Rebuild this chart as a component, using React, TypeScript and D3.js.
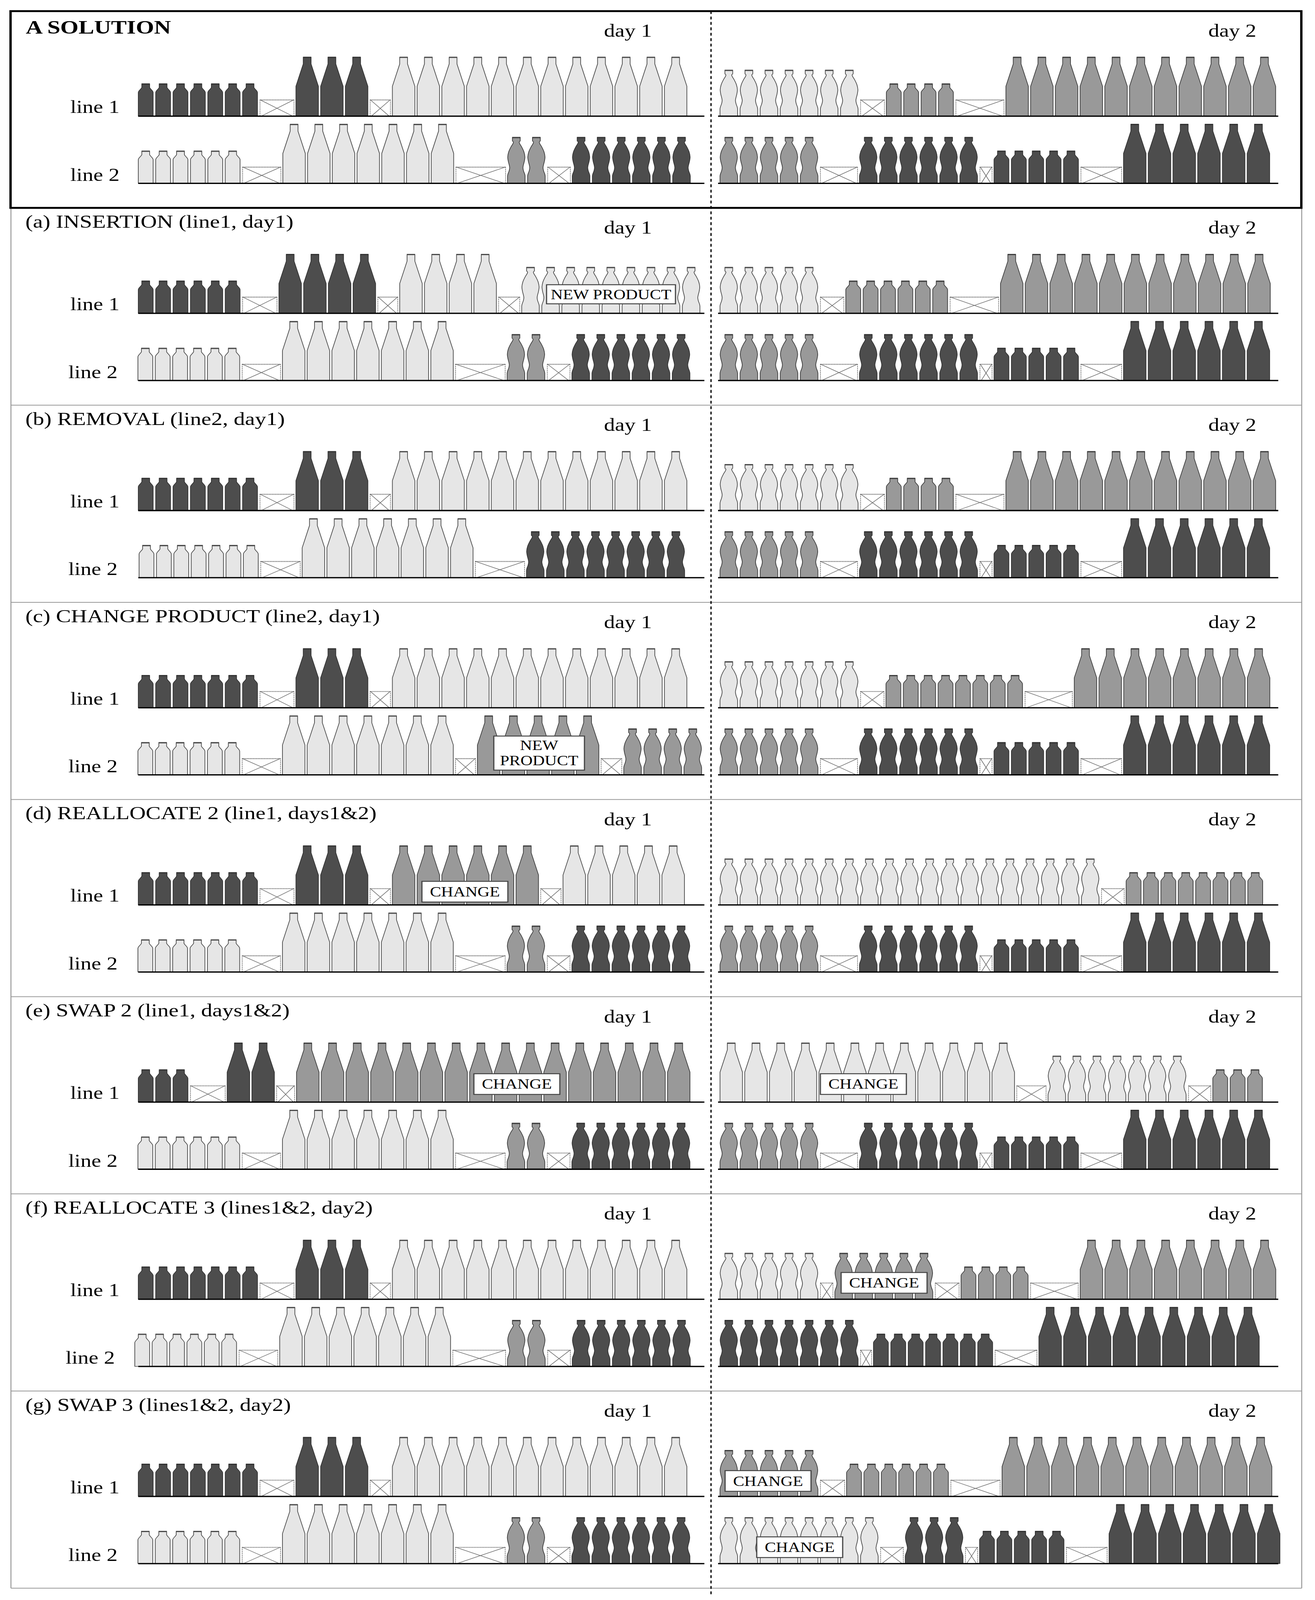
import * as d3 from 'd3'

type Shape = 'small' | 'big' | 'contour'
type Shade = 'dark' | 'mid' | 'light'
type Item = [Shape, Shade, number] | number

// runs of bottles [shape, shade, count]; a plain number is a changeover of that length
const baseD1L1: Item[] = [['small', 'dark', 7], 92, ['big', 'dark', 3], 57, ['big', 'light', 12]]
const baseD1L2: Item[] = [['small', 'light', 6], 103, ['big', 'light', 7], 132, ['contour', 'mid', 2], 63, ['contour', 'dark', 6]]
const baseD2L1: Item[] = [['contour', 'light', 7], 66, ['small', 'mid', 4], 128, ['big', 'mid', 11]]
const baseD2L2: Item[] = [['contour', 'mid', 5], 100, ['contour', 'dark', 6], 36, ['small', 'dark', 5], 109, ['big', 'dark', 6]]

const aD1L1: Item[] = [['small', 'dark', 6], 93, ['big', 'dark', 4], 56, ['big', 'light', 4], 59, ['contour', 'light', 9]]
const aD2L1: Item[] = [['contour', 'light', 5], 65, ['small', 'mid', 6], 129, ['big', 'mid', 11]]
const bD1L2: Item[] = [['small', 'light', 7], 106, ['big', 'light', 7], 131, ['contour', 'dark', 8]]
const cD1L2: Item[] = [['small', 'light', 6], 103, ['big', 'light', 7], 56, ['big', 'mid', 5], 58, ['contour', 'mid', 4]]
const cD2L1: Item[] = [['contour', 'light', 7], 65, ['small', 'mid', 8], 126, ['big', 'mid', 8]]
const dD1L1: Item[] = [['small', 'dark', 7], 92, ['big', 'dark', 3], 57, ['big', 'mid', 6], 57, ['big', 'light', 5]]
const dD2L1: Item[] = [['contour', 'light', 19], 63, ['small', 'mid', 8]]
const eD1L1: Item[] = [['small', 'dark', 3], 94, ['big', 'dark', 2], 51, ['big', 'mid', 16]]
const eD2L1: Item[] = [['big', 'light', 12], 80, ['contour', 'light', 7], 62, ['small', 'mid', 3]]
const fD1L2: Item[] = [['small', 'light', 6], 104, ['big', 'light', 7], 140, ['contour', 'mid', 2], 63, ['contour', 'dark', 6]]
const fD2L1: Item[] = [['contour', 'light', 5], 37, ['contour', 'mid', 5], 66, ['small', 'mid', 4], 127, ['big', 'mid', 8]]
const fD2L2: Item[] = [['contour', 'dark', 7], 33, ['small', 'dark', 7], 112, ['big', 'dark', 9]]
const gD2L1: Item[] = [['contour', 'mid', 5], 67, ['small', 'mid', 6], 131, ['big', 'mid', 11]]
const gD2L2: Item[] = [['contour', 'light', 8], 63, ['contour', 'dark', 3], 36, ['small', 'dark', 5], 109, ['big', 'dark', 7]]

const titles = [
  'A SOLUTION',
  '(a) INSERTION (line1, day1)',
  '(b) REMOVAL (line2, day1)',
  '(c) CHANGE PRODUCT (line2, day1)',
  '(d) REALLOCATE 2 (line1, days1&2)',
  '(e) SWAP 2 (line1, days1&2)',
  '(f) REALLOCATE 3 (lines1&2, day2)',
  '(g) SWAP 3 (lines1&2, day2)',
]

// per panel: day1 line1, day1 line2, day2 line1, day2 line2
const panelRows: Item[][][] = [
  [baseD1L1, baseD1L2, baseD2L1, baseD2L2],
  [aD1L1, baseD1L2, aD2L1, baseD2L2],
  [baseD1L1, bD1L2, baseD2L1, baseD2L2],
  [baseD1L1, cD1L2, cD2L1, baseD2L2],
  [dD1L1, baseD1L2, dD2L1, baseD2L2],
  [eD1L1, baseD1L2, eD2L1, baseD2L2],
  [baseD1L1, fD1L2, fD2L1, fD2L2],
  [baseD1L1, baseD1L2, gD2L1, gD2L2],
]

// panel, line (0/1), centre on the page, text lines
const calloutPanels = [1, 3, 4, 5, 5, 6, 7, 7]
const calloutLines = [0, 1, 0, 0, 0, 0, 0, 1]
const calloutTexts = [['NEW PRODUCT'], ['NEW', 'PRODUCT'], ['CHANGE'], ['CHANGE'], ['CHANGE'], ['CHANGE'], ['CHANGE'], ['CHANGE']]
const calloutCentres = [1564, 1380, 1190, 1323, 2210, 2263, 1966, 2047]
const calloutBottoms = [30, 15, 9, 24, 24, 19, 16, 19]

const WIDTH = 3366
const HEIGHT = 5026
const serif = '"Liberation Serif", "Times New Roman", serif'

const sizes: Record<Shape, { w: number; pitch: number; h: number }> = {
  small: { w: 38, pitch: 44.5, h: 102 },
  big: { w: 57.5, pitch: 63.3, h: 186 },
  contour: { w: 45, pitch: 51.4, h: 145 },
}
const fills = d3.scaleOrdinal<Shade, string>().domain(['dark', 'mid', 'light']).range(['#4d4d4d', '#999999', '#e6e6e6'])
const strokes = d3.scaleOrdinal<Shade, string>().domain(['dark', 'mid', 'light']).range(['#333333', '#3d3d3d', '#4a4a4a'])

const panelY = d3.scaleLinear().domain([0, 8]).range([34, 4989])
const day1X = d3.scaleLinear().domain([0, 1449]).range([354, 1803])
const day2X = d3.scaleLinear().domain([0, 1434]).range([1838, 3272])

const LINE1 = 331
const LINE2 = 542
const NECK = 10
const CRATE_H = 52

// small x offsets of the second line's first bottle and its label
const line2Lead = [0, -1, 2, -1, -1, -1, -9, -1]
const line2LabelShift = [0, -5, -5, -5, -5, -5, -12, -5]

// contour bottle outline: depth below the top, half width
const contourDepth = [12, 15, 20, 30, 46, 62, 76, 88, 96, 106, 116, 122]
const contourHalf = [10, 7.5, 8.5, 13.5, 19.5, 22, 20.5, 18, 17, 18.5, 21.5, 22.5]

function bottlePath(shape: Shape, x: number, base: number) {
  const { w, h } = sizes[shape]
  const cx = x + w / 2
  const hw = w / 2
  const top = base - h
  if (shape === 'big') {
    const p = d3.path()
    p.moveTo(cx - hw, base)
    p.lineTo(cx - hw, top + 92)
    p.lineTo(cx - NECK, top + 22)
    p.lineTo(cx - NECK, top)
    p.lineTo(cx + NECK, top)
    p.lineTo(cx + NECK, top + 22)
    p.lineTo(cx + hw, top + 92)
    p.lineTo(cx + hw, base)
    p.closePath()
    return p.toString()
  }
  if (shape === 'small') {
    const p = d3.path()
    p.moveTo(cx - hw, base)
    p.lineTo(cx - hw, top + 28)
    p.bezierCurveTo(cx - hw, top + 22, cx - hw + 5, top + 20, cx - NECK, top + 12)
    p.lineTo(cx - NECK, top)
    p.lineTo(cx + NECK, top)
    p.lineTo(cx + NECK, top + 12)
    p.bezierCurveTo(cx + hw - 5, top + 20, cx + hw, top + 22, cx + hw, top + 28)
    p.lineTo(cx + hw, base)
    p.closePath()
    return p.toString()
  }
  const curve = d3
    .line<[number, number]>()
    .x((d) => d[0])
    .y((d) => d[1])
    .curve(d3.curveCatmullRom)
  const left = contourDepth.map((d, i) => [cx - contourHalf[i], top + d] as [number, number]).reverse()
  const right = contourDepth.map((d, i) => [cx + contourHalf[i], top + d] as [number, number])
  return (
    `M${cx - hw},${base}L` +
    curve(left)!.slice(1) +
    `L${cx - NECK},${top}L${cx + NECK},${top}L` +
    curve(right)!.slice(1) +
    `L${cx + hw},${base}Z`
  )
}

interface BottleMark { kind: 'bottle'; shape: Shape; shade: Shade; t: number }
interface CrateMark { kind: 'crate'; t: number; len: number }

// walk a row along the time axis
function layoutRow(items: Item[], start: number) {
  const marks: (BottleMark | CrateMark)[] = []
  let t = start
  items.forEach((item) => {
    if (typeof item === 'number') {
      marks.push({ kind: 'crate', t, len: item - 5 })
      t += item
    } else {
      const [shape, shade, count] = item
      d3.range(count).forEach(() => {
        marks.push({ kind: 'bottle', shape, shade, t })
        t += sizes[shape].pitch
      })
    }
  })
  return marks
}

function Crate({ x, w, base }: { x: number; w: number; base: number }) {
  const top = base - CRATE_H
  return (
    <g>
      <rect x={x} y={top} width={w} height={CRATE_H} fill="#fff" />
      <path d={`M${x},${base}V${top}M${x + w},${top}V${base}`} fill="none" stroke="#555" strokeWidth={1.4} strokeDasharray="4 2" />
      <line x1={x} x2={x + w} y1={top + 1} y2={top + 1} stroke="#555" strokeWidth={2.6} strokeDasharray="2 1.5" />
      <path d={`M${x + 1},${top + 1}L${x + w - 3},${base}M${x + w - 1},${top + 1}L${x + 3},${base}`} fill="none" stroke="#666" strokeWidth={1.6} />
    </g>
  )
}

function Row({ items, x, base, lead }: { items: Item[]; x: d3.ScaleLinear<number, number>; base: number; lead: number }) {
  const marks = layoutRow(items, lead)
  return (
    <g>
      {marks.map((m, i) => {
        if (m.kind === 'crate') return <Crate key={i} x={x(m.t)} w={x(m.t + m.len) - x(m.t)} base={base} />
        const px = x(m.t)
        const { w, h } = sizes[m.shape]
        return (
          <g key={i}>
            <path d={bottlePath(m.shape, px, base)} fill={fills(m.shade)} stroke={strokes(m.shade)} strokeWidth={1.8} strokeLinejoin="round" />
            <line x1={px + w / 2 - NECK} x2={px + w / 2 + NECK} y1={base - h + 1.5} y2={base - h + 1.5} stroke={strokes(m.shade)} strokeWidth={3} />
          </g>
        )
      })}
    </g>
  )
}

function Callout({ index }: { index: number }) {
  const lines = calloutTexts[index]
  const panel = calloutPanels[index]
  const base = panelY(panel) + (calloutLines[index] === 0 ? LINE1 : LINE2)
  const wide = lines[0] === 'NEW PRODUCT'
  const two = lines.length > 1
  const w = wide ? 330 : two ? 232 : 220
  const h = wide ? 60 : two ? 107 : 65
  const cx = calloutCentres[index]
  const bottom = base - calloutBottoms[index]
  return (
    <g>
      <rect x={cx - w / 2} y={bottom - h} width={w} height={h} fill="#fff" stroke="#444" strokeWidth={3} />
      {lines.map((t, i) => (
        <text
          key={t}
          x={cx}
          y={two ? bottom - 65 + i * 48 + 2 : bottom - h / 2 + 15}
          textAnchor="middle"
          fontFamily={serif}
          fontSize={43}
          fill="#000"
        >
          {t}
        </text>
      ))}
    </g>
  )
}

export default function App() {
  // the window can be shorter than the chart, so fit the chart's height to it
  const shownHeight = Math.min(HEIGHT, window.innerHeight)
  return (
    <div style={{ width: WIDTH, height: shownHeight }}>
      <style>{'html,body{margin:0;padding:0;background:#fff;overflow:hidden}'}</style>
      <svg
        width={WIDTH}
        height={shownHeight}
        viewBox={`0 0 ${WIDTH} ${HEIGHT}`}
        preserveAspectRatio="none"
        style={{ display: 'block', background: '#fff' }}
      >
        {/* thin panel rules */}
        <path d={`M28,${panelY(1)}V${panelY(8)}M3332,${panelY(1)}V${panelY(8)}`} stroke="#999" strokeWidth={2.5} fill="none" />
        {d3.range(2, 9).map((i) => (
          <line key={i} x1={28} x2={3332} y1={panelY(i)} y2={panelY(i)} stroke="#999" strokeWidth={2.5} />
        ))}

        {titles.map((title, i) => {
          const top = panelY(i)
          const lead = line2Lead[i]
          return (
            <g key={title}>
              <text x={i === 0 ? 66 : 65} y={top + (i === 0 ? 71 : 62)} fontFamily={serif} fontSize={i === 0 ? 60 : 57.5} fontWeight={i === 0 ? 700 : 400}>
                {title}
              </text>
              <text x={1546} y={top + 81} fontFamily={serif} fontSize={56}>day 1</text>
              <text x={3093} y={top + 81} fontFamily={serif} fontSize={56}>day 2</text>
              <text x={180} y={top + LINE1 - 10} fontFamily={serif} fontSize={56}>line 1</text>
              <text x={180 + line2LabelShift[i]} y={top + LINE2 - 8} fontFamily={serif} fontSize={56}>line 2</text>

              <Row items={panelRows[i][0]} x={day1X} base={top + LINE1} lead={0} />
              <Row items={panelRows[i][1]} x={day1X} base={top + LINE2} lead={lead} />
              <Row items={panelRows[i][2]} x={day2X} base={top + LINE1} lead={5} />
              <Row items={panelRows[i][3]} x={day2X} base={top + LINE2} lead={5} />

              {[LINE1, LINE2].map((l) => (
                <g key={l}>
                  <line x1={day1X(0)} x2={day1X(1449)} y1={top + l} y2={top + l} stroke="#000" strokeWidth={4} />
                  <line x1={day2X(0)} x2={day2X(1434)} y1={top + l} y2={top + l} stroke="#000" strokeWidth={4} />
                </g>
              ))}
            </g>
          )
        })}

        {calloutTexts.map((_, i) => (
          <Callout key={i} index={i} />
        ))}

        {/* solution frame and day divider */}
        <rect x={27} y={35} width={3304} height={618} fill="none" stroke="#000" strokeWidth={6} />
        <line x1={1820} x2={1820} y1={35} y2={5013} stroke="#000" strokeWidth={3.2} strokeDasharray="9 8" />
      </svg>
    </div>
  )
}
